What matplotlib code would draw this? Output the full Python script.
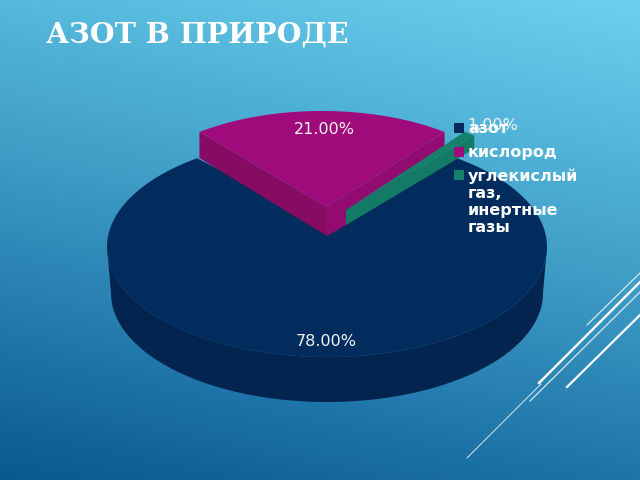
import numpy as np
import matplotlib
matplotlib.use('Agg')
import matplotlib.pyplot as plt

title = 'АЗОТ В ПРИРОДЕ'
categories = ['азот', 'кислород', 'углекислый\nгаз,\nинертные\nгазы']
values = [78, 21, 1]
value_labels = ['78.00%', '21.00%', '1.00%']

top_colors = ['#032c5e', '#a00b7c', '#15806b']
left_colors = ['#02244e', '#870a63', '#117060']
right_colors = ['#02244e', '#920b70', '#137a66']

fig = plt.figure(figsize=(6.4, 4.8), dpi=100)
ax = fig.add_axes([0, 0, 1, 1])
ax.set_xlim(0, 640)
ax.set_ylim(480, 0)
ax.axis('off')

# background gradient, light top right to dark bottom left
yy, xx = np.mgrid[0:1:240j, 0:1:320j]
t = np.clip(yy * 0.78 + (1 - xx) * 0.22, 0, 1)
stops = np.array([[0.42, 0.82, 0.94], [0.25, 0.62, 0.78], [0.13, 0.47, 0.67], [0.03, 0.35, 0.56]])
grad = np.stack([np.interp(t, [0, 0.45, 0.75, 1], stops[:, i]) for i in range(3)], axis=2)
ax.imshow(grad, extent=(0, 640, 480, 0), aspect='auto', zorder=0)

# decoration lines at the right
ax.plot([587, 640], [325, 273], color='#d5eaf2', lw=0.9, zorder=1)
ax.plot([539, 640], [383, 282], color='white', lw=1.7, zorder=1)
ax.plot([530, 640], [401, 292], color='#d5eaf2', lw=0.9, zorder=1)
ax.plot([467, 541], [458, 384], color='#d5eaf2', lw=0.7, zorder=1)
ax.plot([567, 640], [387, 315], color='white', lw=1.6, zorder=1)


def arc(cx, cy, rx, ry, a0, a1):
    # angles in degrees, clockwise from 12 o'clock
    a = np.radians(np.linspace(a0, a1, 200))
    return cx + rx * np.sin(a), cy - ry * np.cos(a)


shares = np.array(values) / sum(values) * 360
mag_half = shares[1] / 2
green_end = mag_half + shares[2]

# azot: the foreshortened gap makes its corners sit a bit closer to the top
gap = (mag_half + green_end) / 2 * 0.915
x, y = arc(327, 293, 216, 109, 90, 270)
xt, yt = arc(327, 247, 220, 110, 90, 270)
ax.fill(np.r_[xt, x[::-1]], np.r_[yt, y[::-1]], color=left_colors[0], lw=0, zorder=2)
x, y = arc(327, 247, 220, 110, gap, 360 - gap)
ax.fill(np.r_[x, 327], np.r_[y, 224], color=top_colors[0], lw=0, zorder=3)

# kislorod, pulled out towards the top
cx, cy = 327, 207
x, y = arc(322, 211, 200, 100, -mag_half, mag_half)
ax.fill([cx, x[0], x[0], cx], [cy, y[0], y[0] + 26, cy + 29], color=left_colors[1], lw=0, zorder=4)
ax.fill([cx, x[-1], x[-1], 346, cx], [cy, y[-1], y[-1] + 14, 225, cy + 29], color=right_colors[1], lw=0, zorder=4)
ax.fill(np.r_[cx, x], np.r_[cy, y], color=top_colors[1], lw=0, zorder=5)

# other gases, thin slice in front of the magenta side
cx, cy = 346, 210
x, y = arc(cx, cy, 194, 99, mag_half, green_end)
ax.fill([cx, x[-1], x[-1], cx], [cy, y[-1], y[-1] + 13, cy + 15], color=right_colors[2], lw=0, zorder=6)
ax.fill(np.r_[cx, x], np.r_[cy, y], color=top_colors[2], lw=0, zorder=7)

ax.text(326, 341, value_labels[0], color='#f2f2f2', fontsize=11.5, ha='center', va='center', zorder=8)
ax.text(324, 130, value_labels[1], color='#f2f2f2', fontsize=11.5, ha='center', va='center', zorder=8)
ax.text(493, 125, value_labels[2], color='#f2f2f2', fontsize=11.5, ha='center', va='center', zorder=8)

# legend
legend_y = [128, 152, 175]
for name, c, ly in zip(categories, top_colors, legend_y):
    ax.scatter([458.5], [ly], marker='s', s=50, color=c, lw=0, zorder=9)
    ax.text(468, ly - 7, name, color='white', fontsize=11.5, fontweight='bold',
            ha='left', va='top', linespacing=1.19, zorder=10)

ax.text(46, 35, title, color='white', fontsize=20.5, fontweight='bold', family='DejaVu Serif',
        ha='left', va='center', zorder=10)

fig.savefig('out.png', dpi=100)
